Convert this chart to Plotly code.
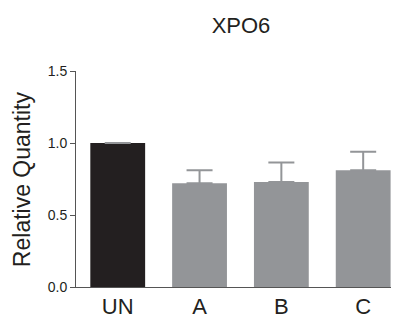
import plotly.graph_objects as go

categories = ["UN", "A", "B", "C"]
values = [1.0, 0.72, 0.73, 0.81]
errors_up = [None, 0.09, 0.135, 0.13]
bar_colors = ["#231f20", "#939598", "#939598", "#939598"]
y_ticks = [0.0, 0.5, 1.0, 1.5]
y_tick_labels = ["0.0", "0.5", "1.0", "1.5"]

fig = go.Figure(
    go.Bar(
        x=list(range(len(categories))),
        y=values,
        width=0.67,
        marker=dict(color=bar_colors, line=dict(width=0)),
        hoverinfo="skip",
        error_y=dict(
            type="data",
            symmetric=False,
            array=errors_up,
            arrayminus=[0] * len(values),
            color="#939598",
            thickness=2,
            width=13,
        ),
    )
)

font_family = "Liberation Sans, Arial, sans-serif"
fig.update_layout(
    width=403,
    height=320,
    margin=dict(l=76, r=12, t=71, b=33, autoexpand=False),
    paper_bgcolor="white",
    plot_bgcolor="white",
    showlegend=False,
    hovermode=False,
    font=dict(family=font_family, color="#231f20"),
    title=dict(text="XPO6", x=0.598, xanchor="center", y=0.92, yanchor="middle",
               font=dict(size=22, family=font_family, color="#231f20")),
    annotations=[
        dict(text="Relative Quantity", xref="paper", yref="paper",
             x=-0.171, y=0.5, xanchor="center", yanchor="middle",
             textangle=-90, showarrow=False,
             font=dict(size=23, family=font_family, color="#231f20")),
    ],
)
fig.update_xaxes(
    range=[-0.51, 3.34],
    tickvals=list(range(len(categories))),
    ticktext=categories,
    tickfont=dict(size=22),
    showline=True,
    linecolor="#555555",
    linewidth=1,
    ticks="",
    showgrid=False,
    zeroline=False,
    automargin=False,
)
fig.update_yaxes(
    range=[0, 1.5],
    tickvals=y_ticks,
    ticktext=y_tick_labels,
    tickfont=dict(size=14),
    ticks="outside",
    ticklen=5,
    tickcolor="#555555",
    showline=True,
    linecolor="#555555",
    linewidth=1,
    showgrid=False,
    zeroline=False,
    automargin=False,
)

fig.write_html(
    "out.html",
    config={"displayModeBar": False},
    post_script="document.body.style.margin='0';document.body.style.overflow='hidden';",
)
